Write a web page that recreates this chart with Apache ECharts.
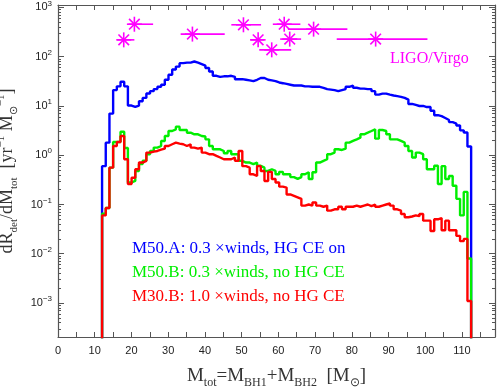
<!DOCTYPE html>
<html>
<head>
<meta charset="utf-8">
<script src="https://cdn.jsdelivr.net/npm/echarts@6/dist/echarts.min.js"></script>
<style>
  html, body { margin: 0; padding: 0; background: #fff; }
  #chart { width: 502px; height: 388px; }
</style>
</head>
<body>
<div id="chart"></div>
<script>
// histogram bins in M_tot, first edge and width
const binStart = 12;
const binWidth = 1.005;

// M50.A: 0.3 x winds, HG CE on (blue)
const rateM50A = [
  0.6, 1.8, 7, 21, 25, 31, 25, 10.2, 9.6, 10.2,
  12.5, 14.6, 17.9, 20, 22, 24.5, 27, 34, 43, 55,
  63, 74, 76, 76, 80, 76, 71, 66, 59, 50,
  41, 39, 40, 40, 41, 39, 35, 35, 34, 33,
  32, 34, 37, 37, 34, 33, 32, 30, 29, 28,
  27, 26, 26, 26, 25, 25, 24.5, 24.5, 24.5, 23.4,
  22, 21.5, 21, 20, 21, 22, 24.5, 26, 23.4, 22.5,
  22.5, 22, 22, 20, 17, 17.8, 17.8, 17, 16.3, 15.8,
  15.3, 14.6, 13.5, 11, 10.5, 10, 10, 9.5, 9.5, 8,
  6.5, 6.2, 5.7, 5.2, 4.7, 4.4, 4.0, 3.2, 2.9, 1.5
];

// M50.B: 0.3 x winds, no HG CE (green)
const rateM50B = [
  0.065, 0.085, 0.56, 1.86, 1.86, 3.0, 1.4, 0.28, 0.30, 0.48,
  0.66, 0.77, 1.05, 1.22, 1.43, 1.54, 1.95, 2.46, 3.1, 3.35,
  3.8, 3.25, 3.25, 2.87, 2.66, 2.66, 2.46, 2.4, 2.1, 1.54,
  1.32, 1.32, 1.22, 1.10, 1.22, 1.05, 1.05, 0.77, 0.71, 0.71,
  0.66, 0.71, 0.61, 0.56, 0.48, 0.52, 0.48, 0.41, 0.46, 0.41,
  0.41, 0.36, 0.33, 0.36, 0.41, 0.45, 0.33, 0.45, 0.71, 0.77,
  0.83, 1.05, 1.13, 1.32, 1.28, 1.36, 1.8, 1.95, 2.1, 2.27,
  2.66, 2.87, 3.1, 3.35, 2.17, 3.25, 3.1, 2.66, 2.1, 2.1,
  1.95, 1.8, 1.54, 1.22, 0.9, 1.13, 1.05, 0.83, 0.52, 0.52,
  0.61, 0.26, 0.6, 0.33, 0.38, 0.24, 0.13, 0.06, 0.18, 0.008
];

// M30.B: 1.0 x winds, no HG CE (red)
const rateM30B = [
  0.06, 0.085, 0.56, 1.54, 1.86, 2.45, 0.83, 0.26, 0.35, 0.52,
  0.71, 0.77, 1.13, 1.18, 1.22, 1.3, 1.36, 1.54, 1.67, 1.8,
  1.72, 1.67, 1.54, 1.67, 1.43, 1.36, 1.43, 1.13, 1.05, 1.05,
  0.97, 0.9, 0.83, 0.83, 0.83, 0.9, 0.77, 1.22, 0.6, 0.56,
  0.41, 0.38, 0.6, 0.48, 0.3, 0.46, 0.33, 0.28, 0.23, 0.22,
  0.16, 0.15, 0.14, 0.13, 0.095, 0.1, 0.095, 0.11, 0.095, 0.09,
  0.095, 0.075, 0.08, 0.08, 0.09, 0.08, 0.09, 0.09, 0.095, 0.09,
  0.095, 0.1, 0.093, 0.1, 0.09, 0.095, 0.1, 0.105, 0.095, 0.08,
  0.075, 0.064, 0.055, 0.057, 0.06, 0.058, 0.064, 0.047, 0.047, 0.029,
  0.05, 0.053, 0.03, 0.047, 0.03, 0.03, 0.023, 0.018, 0.02, 0.0011
];

// LIGO/Virgo detections: total mass, rate, mass error range
const ligoMass = [17.9, 20.8, 36.6, 50.5, 54.5, 58.2, 61.6, 63.1, 69.6, 86.5];
const ligoRate = [220, 457, 288, 445, 220, 138, 457, 228, 363, 228];
const ligoLow = [16.1, 19.2, 33.4, 47.2, 52.3, 54.8, 58.5, 60.5, 62.6, 75.9];
const ligoHigh = [20.8, 25.9, 45.4, 55.3, 56.2, 63.5, 66.0, 66.2, 78.8, 100.6];

const legendLines = [
  { text: "M50.A: 0.3 \u00d7winds, HG CE on", color: "#0000ff" },
  { text: "M50.B: 0.3 \u00d7winds, no HG CE", color: "#00ee00" },
  { text: "M30.B: 1.0 \u00d7winds, no HG CE", color: "#ff0000" },
];

const yMajorTicks = [1e-3, 1e-2, 1e-1, 1, 10, 100, 1000];
const yMin = 2.04e-4;
const yMax = 1122;
const xMin = 0;
const xMax = 119;

const yMinorTicks = [];
for (let k = -4; k <= 2; k++) {
  for (let m = 2; m <= 9; m++) {
    const v = m * Math.pow(10, k);
    if (v > yMin && v < yMax) yMinorTicks.push(v);
  }
}

const FLOOR = 1e-7;
const stepData = (vals) => {
  const pts = [[binStart, FLOOR]];
  vals.forEach((v, i) => pts.push([binStart + i * binWidth, v]));
  const end = binStart + vals.length * binWidth;
  pts.push([end, vals[vals.length - 1]]);
  pts.push([end, FLOOR]);
  return pts;
};

const frameColor = "#555";
const serif = "Liberation Serif";
const sans = "Liberation Sans";

const supRich = {
  b: { fontSize: 11, fontFamily: sans, color: "#222", lineHeight: 16 },
  sup: { fontSize: 8, fontFamily: sans, color: "#222", lineHeight: 8, verticalAlign: "top" },
};

const makeYAxis = (position, minor, labels) => ({
  type: "log",
  logBase: 10,
  min: yMin,
  max: yMax,
  position,
  axisLine: { show: !minor, lineStyle: { color: frameColor, width: 1.2 } },
  axisTick: {
    show: true,
    inside: true,
    length: minor ? 3 : 6,
    customValues: minor ? yMinorTicks : yMajorTicks,
    lineStyle: { color: frameColor, width: 1 },
  },
  axisLabel: labels
    ? {
        show: true,
        customValues: yMajorTicks,
        margin: 6,
        formatter: (v) => {
          const e = Math.round(Math.log10(v));
          return "{b|10}{sup|" + String(e).replace("-", "\u2212") + "}";
        },
        rich: supRich,
      }
    : { show: false },
  splitLine: { show: false },
});

const makeXAxis = (position, labels) => ({
  type: "value",
  min: xMin,
  max: xMax,
  interval: 5,
  position,
  axisLine: { show: true, onZero: false, lineStyle: { color: frameColor, width: 1.2 } },
  axisTick: { show: true, inside: true, length: 5, lineStyle: { color: frameColor, width: 1 } },
  axisLabel: labels
    ? {
        show: true,
        color: "#222",
        fontFamily: sans,
        fontSize: 11,
        margin: 8,
        formatter: (v) => (v % 10 === 0 ? String(v) : ""),
      }
    : { show: false },
  splitLine: { show: false },
});

const xAxisBottom = makeXAxis("bottom", true);
xAxisBottom.name =
  "{t|M}{s|tot}{t|=M}{s|BH1}{t|+M}{s|BH2}{t|  [M}{s|\u2299}{t|]}";
xAxisBottom.nameLocation = "middle";
xAxisBottom.nameGap = 26;
xAxisBottom.nameTextStyle = {
  rich: {
    t: { fontFamily: serif, fontSize: 19, color: "#333", lineHeight: 26 },
    s: { fontFamily: serif, fontSize: 12, color: "#333", lineHeight: 13, verticalAlign: "bottom" },
  },
};

const yAxisLeft = makeYAxis("left", false, true);
yAxisLeft.name =
  "{t|dR}{s|det}{t|/dM}{s|tot}{t|  [yr}{p|\u22121}{t| M}{s|\u2299}{p|\u22121}{t|]}";
yAxisLeft.nameLocation = "middle";
yAxisLeft.nameRotate = 90;
yAxisLeft.nameGap = 23;
yAxisLeft.nameTextStyle = {
  rich: {
    t: { fontFamily: serif, fontSize: 18, color: "#333", lineHeight: 24 },
    s: { fontFamily: serif, fontSize: 11, color: "#333", lineHeight: 12, verticalAlign: "bottom" },
    p: { fontFamily: serif, fontSize: 11, color: "#333", lineHeight: 12, verticalAlign: "top" },
  },
};

const histSeries = (name, vals, color) => ({
  name,
  type: "line",
  step: "end",
  data: stepData(vals),
  showSymbol: false,
  symbol: "none",
  clip: true,
  lineStyle: { color, width: 2.4 },
  itemStyle: { color },
  animation: false,
  z: 3,
});

const ligoData = ligoMass.map((m, i) => [m, ligoRate[i], ligoLow[i], ligoHigh[i]]);

const ligoSeries = {
  type: "custom",
  data: ligoData,
  animation: false,
  z: 4,
  renderItem: (params, api) => {
    const c = api.coord([api.value(0), api.value(1)]);
    const lo = api.coord([api.value(2), api.value(1)]);
    const hi = api.coord([api.value(3), api.value(1)]);
    const style = { stroke: "#ff00ff", lineWidth: 1.6 };
    const r = 7.5;
    const arms = [0, 45, 90, 135].map((deg) => {
      const a = (deg * Math.PI) / 180;
      const dx = Math.cos(a) * r;
      const dy = Math.sin(a) * r;
      return {
        type: "line",
        shape: { x1: c[0] - dx, y1: c[1] - dy, x2: c[0] + dx, y2: c[1] + dy },
        style,
      };
    });
    return {
      type: "group",
      children: [
        { type: "line", shape: { x1: lo[0], y1: lo[1], x2: hi[0], y2: hi[1] }, style },
        ...arms,
      ],
    };
  },
};

const chart = echarts.init(document.getElementById("chart"), null, { renderer: "canvas" });

chart.setOption({
  backgroundColor: "#fff",
  animation: false,
  grid: { left: 58, right: 7, top: 5, bottom: 51, containLabel: false, outerBoundsMode: "none" },
  xAxis: [xAxisBottom, makeXAxis("top", false)],
  yAxis: [
    yAxisLeft,
    makeYAxis("left", true, false),
    makeYAxis("right", false, false),
    makeYAxis("right", true, false),
  ],
  series: [
    histSeries("M50.A", rateM50A, "#0000ff"),
    histSeries("M50.B", rateM50B, "#00ee00"),
    histSeries("M30.B", rateM30B, "#ff0000"),
    ligoSeries,
  ],
  graphic: [
    ...legendLines.map((l, i) => ({
      type: "text",
      left: 132,
      top: 240 + i * 24,
      style: {
        text: l.text,
        fill: l.color,
        font: "17px 'Liberation Serif'",
      },
    })),
    {
      type: "text",
      left: 390,
      top: 51,
      style: { text: "LIGO/Virgo", fill: "#ff00ff", font: "16px 'Liberation Serif'" },
    },
  ],
});
</script>
</body>
</html>
